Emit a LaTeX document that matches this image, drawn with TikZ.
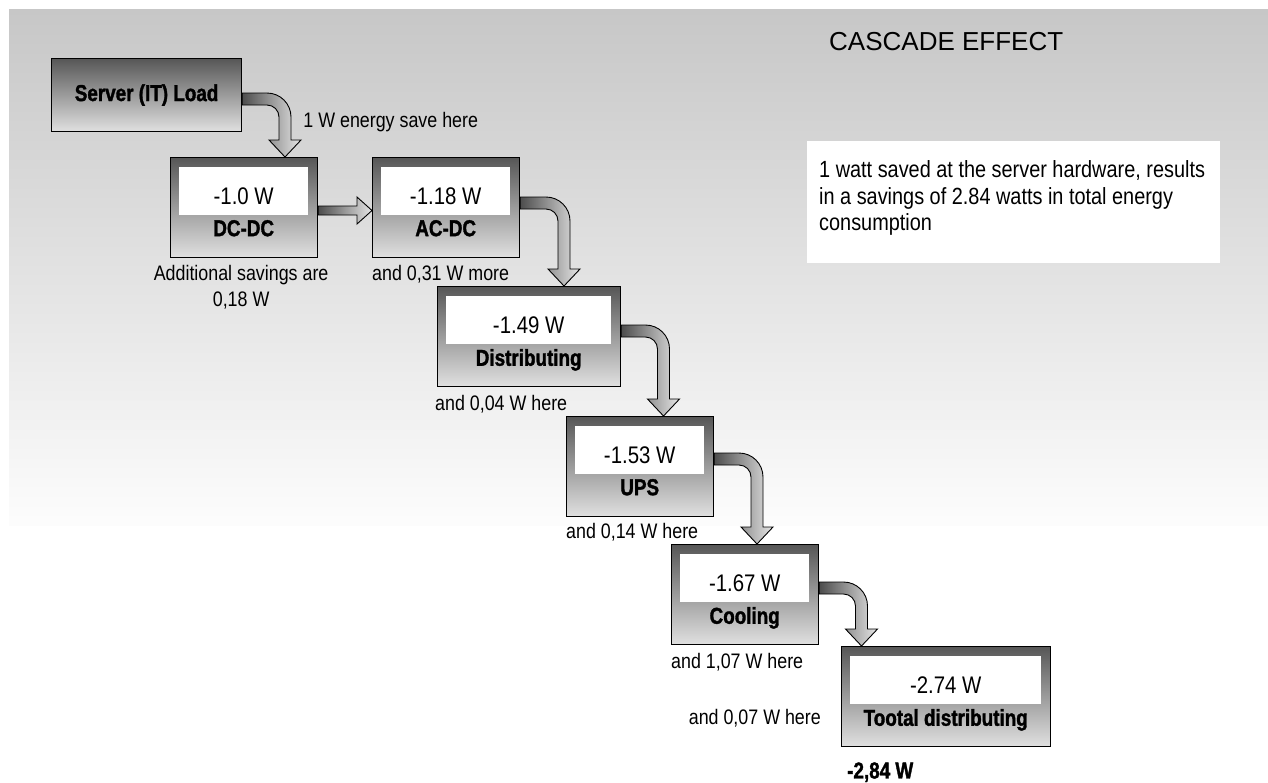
\documentclass[tikz,border=0pt]{standalone}
\usepackage{fontspec}
\setmainfont{Liberation Sans}[FakeStretch=0.85]
\newfontfamily\heavyfont{Liberation Sans}[FakeStretch=0.82, BoldFeatures={FakeBold=1.5}]
\newfontfamily\titlefont{Liberation Sans}
\usetikzlibrary{positioning, calc}

\tikzstyle{stagebox} = [rectangle, draw=black, line width=1.2pt, top color=black!66, bottom color=black!12, minimum height=100pt, inner sep=0pt]
\tikzstyle{valbox} = [rectangle, fill=white, minimum height=48pt, inner sep=0pt]
\tikzstyle{valtext} = [font=\fontsize{24}{28}\selectfont, inner sep=0pt]
\tikzstyle{stagelabel} = [font=\heavyfont\bfseries\fontsize{23}{26}\selectfont, inner sep=0pt]
\tikzstyle{note} = [font=\fontsize{21}{26}\selectfont, inner sep=0pt]
\tikzstyle{flowarrow} = [draw=black, line width=0.9pt, left color=black!70, right color=black!10]

% box with white value field and heavy caption
\newcommand{\stage}[6]{%
  \node[stagebox, minimum width=#4pt, anchor=north west] (#1) at (#2,#3) {};
  \node[valbox, minimum width=#4pt-18pt, below right=10pt and 9pt of #1.north west] (#1v) {};
  \node[valtext] (#1t) at ([yshift=-5pt]#1v.center) {#5};
  \node[stagelabel, below=4.5pt of #1v] (#1l) {#6};
}

% fat bent arrow: from, drop below its top, to, offset from its left side
\newcommand{\bentarrow}[4]{%
  \shade[flowarrow] let \p1=($(#1.north east)+(0,#2)$), \p2=($(#3.north west)+(#4,0)$) in
    (\x1,\y1) -- ({\x2-18pt},\y1) arc[start angle=90, end angle=0, radius=24pt]
    -- ({\x2+6pt},{\y2+17pt}) -- ({\x2+16pt},{\y2+17pt}) -- (\x2,\y2)
    -- ({\x2-16pt},{\y2+17pt}) -- ({\x2-6pt},{\y2+17pt})
    -- ({\x2-6pt},{\y1-24pt}) arc[start angle=0, end angle=90, radius=12pt]
    -- (\x1,{\y1-12pt}) -- cycle;
}

\begin{document}
\begin{tikzpicture}[x=1pt, y=-1pt]

\useasboundingbox (0,0) rectangle (1268,782);
\shade[top color=black!22, bottom color=black!1] (9,9) rectangle (1268,525);

\node[anchor=west, font=\titlefont\fontsize{26}{30}\selectfont, inner sep=0pt] (title) at (829,42) {CASCADE EFFECT};
\node[fill=white, minimum width=413pt, minimum height=122pt, inner sep=0pt, anchor=north west] (summary) at (807,141) {};
\node[note, font=\fontsize{23.4}{26.5}\selectfont, align=left, below right=19.5pt and 12pt of summary.north west] (summarytext) {1 watt saved at the server hardware, results\\in a savings of 2.84 watts in total energy\\consumption};

\node[stagebox, minimum width=190pt, minimum height=73pt, anchor=north west, font=\heavyfont\bfseries\fontsize{23}{26}\selectfont] (server) at (51,58) {Server (IT) Load};

\stage{dcdc}{170}{157}{147}{-1.0 W}{DC-DC}
\stage{acdc}{372}{157}{147}{-1.18 W}{AC-DC}
\stage{dist}{437}{286}{183}{-1.49 W}{Distributing}
\stage{ups}{566}{416}{147}{-1.53 W}{UPS}
\stage{cool}{671}{544}{147}{-1.67 W}{Cooling}
\stage{total}{841}{646}{209}{-2.74 W}{Tootal distributing}

\node[note, right=61pt of server.east, yshift=-27pt] (savehere) {1 W energy save here};
\node[note, align=center, below=7pt of dcdc, xshift=-3pt] (dcdcnote) {Additional savings are\\0,18 W};
\node[note, below right=6.5pt and 0pt of acdc.south west] (acdcnote) {and 0,31 W more};
\node[note, below right=8.2pt and -2pt of dist.south west] (distnote) {and 0,04 W here};
\node[note, below right=5.7pt and 0pt of ups.south west] (upsnote) {and 0,14 W here};
\node[note, below right=7.7pt and 0pt of cool.south west] (coolnote) {and 1,07 W here};
\node[note, left=20pt of total.west, yshift=-21.5pt] (totalnote) {and 0,07 W here};
\node[stagelabel, below right=15pt and 6pt of total.south west] (grandtotal) {-2,84 W};

\bentarrow{server}{35}{dcdc}{115}
\shade[flowarrow] let \p1=(dcdc.east), \p2=($(acdc.north west)+(0,53.5)$) in
  (\x1,{\y2+4.5pt}) -- ({\x2-15pt},{\y2+4.5pt}) -- ({\x2-15pt},{\y2+13.5pt}) -- (\x2,\y2)
  -- ({\x2-15pt},{\y2-13.5pt}) -- ({\x2-15pt},{\y2-4.5pt}) -- (\x1,{\y2-4.5pt}) -- cycle;
\bentarrow{acdc}{40}{dist}{127}
\bentarrow{dist}{39}{ups}{97.5}
\bentarrow{ups}{37}{cool}{86}
\bentarrow{cool}{38}{total}{20.5}

\end{tikzpicture}
\end{document}
